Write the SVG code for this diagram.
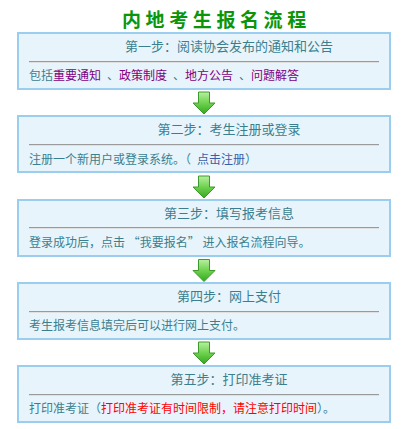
<svg xmlns="http://www.w3.org/2000/svg" width="408" height="429" viewBox="0 0 408 429">
<defs>
<linearGradient id="ag" x1="0" y1="0" x2="0" y2="1">
<stop offset="0" stop-color="#b8f0a0"/>
<stop offset="0.5" stop-color="#6fd24f"/>
<stop offset="1" stop-color="#33a81f"/>
</linearGradient>
<path id="arrow" d="M198.5,0 h11 v11 h5.5 l-11,11 l-11,-11 h5.5 z" fill="url(#ag)" stroke="#3c9a2c" stroke-width="1" stroke-linejoin="round"/>
</defs>
<style>
.box{fill:#e8f4fc;stroke:#9bcdef;stroke-width:2}
.sep{stroke:#9a9a9a;stroke-width:1}
.sep2{stroke:#e0e0e0;stroke-width:1}
.h{font-family:"Noto Sans CJK SC","Noto Sans CJK JP",sans-serif;font-size:13px;fill:#3b7f8e;text-anchor:middle}
.b{font-family:"Noto Sans CJK SC","Noto Sans CJK JP",sans-serif;font-size:12px;fill:#3b7f8e}
.p{fill:#800080}
.bl{fill:#3a5fa8}
.r{fill:#ff0000}
.t{font-family:"Noto Sans CJK SC","Noto Sans CJK JP",sans-serif;font-size:19px;font-weight:bold;fill:#0a960a;letter-spacing:4.6px}
</style>
<rect width="408" height="429" fill="#ffffff"/>
<text class="t" x="122" y="26.5">内地考生报名流程</text>

<g id="connectors">
<use href="#arrow" transform="translate(0,92)"/>
<use href="#arrow" transform="translate(0,176)"/>
<use href="#arrow" transform="translate(0,259.5)"/>
<use href="#arrow" transform="translate(0,342)"/>
</g>

<g id="step1">
<rect class="box" x="18" y="33" width="372" height="56"/>
<line class="sep" x1="29" y1="61.5" x2="379" y2="61.5"/>
<line class="sep2" x1="29" y1="62.5" x2="379" y2="62.5"/>
<text class="h" x="229" y="50.5">第一步：阅读协会发布的通知和公告</text>
<text class="b" y="80"><tspan x="29">包括</tspan><tspan class="p" x="53">重要通知</tspan><tspan x="107">、</tspan><tspan class="p" x="119">政策制度</tspan><tspan x="173">、</tspan><tspan class="p" x="185">地方公告</tspan><tspan x="239">、</tspan><tspan class="p" x="251">问题解答</tspan></text>
</g>

<g id="step2">
<rect class="box" x="18" y="116" width="372" height="56"/>
<line class="sep" x1="29" y1="144.5" x2="379" y2="144.5"/>
<line class="sep2" x1="29" y1="145.5" x2="379" y2="145.5"/>
<text class="h" x="229" y="133.5">第二步：考生注册或登录</text>
<text class="b" y="164"><tspan x="29">注册一个新用户或登录系统。（</tspan><tspan class="bl" x="197">点击注册</tspan><tspan x="245">）</tspan></text>
</g>

<g id="step3">
<rect class="box" x="18" y="200" width="372" height="56"/>
<line class="sep" x1="29" y1="227.5" x2="379" y2="227.5"/>
<line class="sep2" x1="29" y1="228.5" x2="379" y2="228.5"/>
<text class="h" x="229" y="217.5">第三步：填写报考信息</text>
<text class="b" y="247"><tspan x="29">登录成功后，点击 “我要报名” 进入报名流程向导。</tspan></text>
</g>

<g id="step4">
<rect class="box" x="18" y="283" width="372" height="56"/>
<line class="sep" x1="29" y1="311.5" x2="379" y2="311.5"/>
<line class="sep2" x1="29" y1="312.5" x2="379" y2="312.5"/>
<text class="h" x="229" y="300.5">第四步：网上支付</text>
<text class="b" y="330"><tspan x="29">考生报考信息填完后可以进行网上支付。</tspan></text>
</g>

<g id="step5">
<rect class="box" x="18" y="366" width="372" height="56"/>
<line class="sep" x1="29" y1="394.5" x2="379" y2="394.5"/>
<line class="sep2" x1="29" y1="395.5" x2="379" y2="395.5"/>
<text class="h" x="229" y="383.5">第五步：打印准考证</text>
<text class="b" y="413"><tspan x="29">打印准考证（</tspan><tspan class="r" x="101">打印准考证有时间限制，请注意打印时间</tspan><tspan x="317">）。</tspan></text>
</g>
</svg>
